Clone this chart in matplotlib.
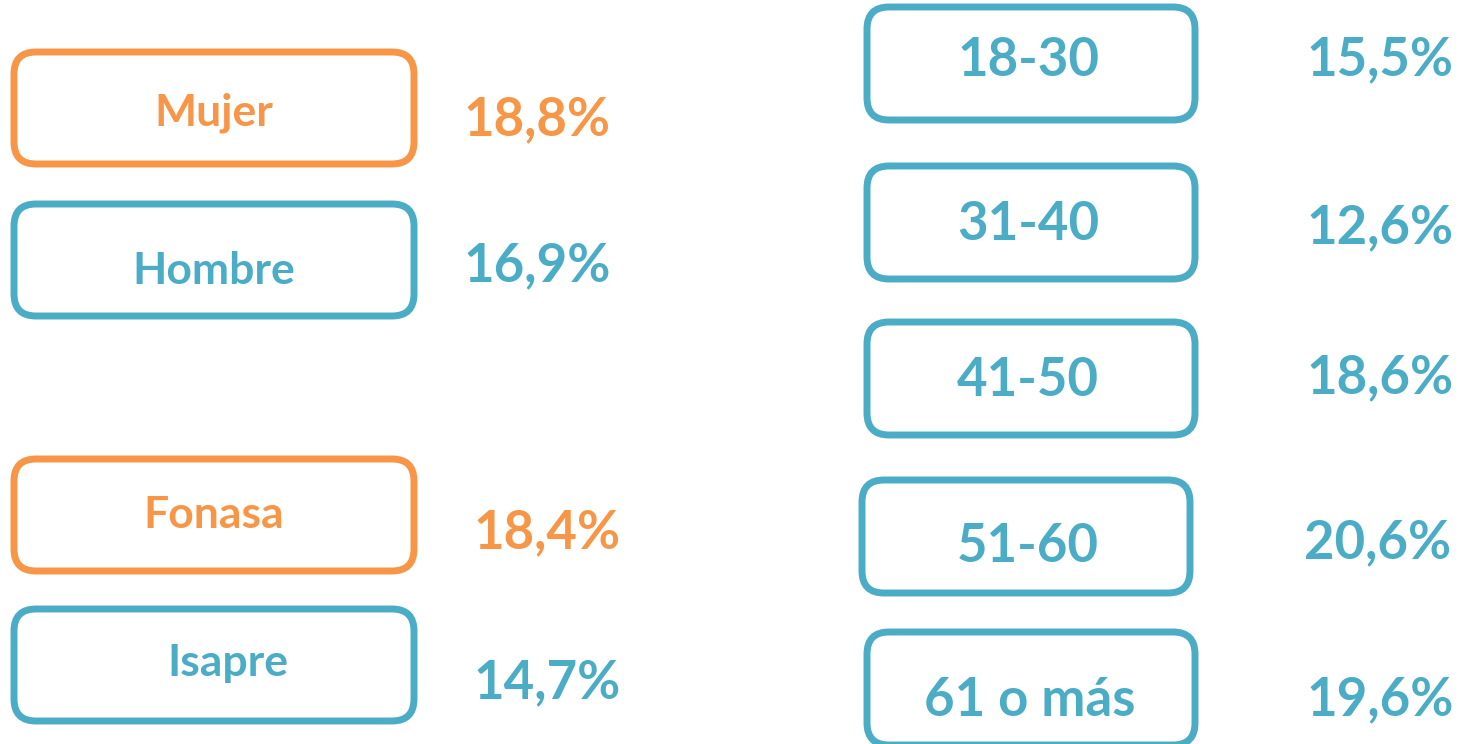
import matplotlib.pyplot as plt
from matplotlib.patches import FancyBboxPatch

# Datos
grupos_izq = ['Mujer', 'Hombre', 'Fonasa', 'Isapre']
valores_izq = ['18,8%', '16,9%', '18,4%', '14,7%']
destacado_izq = [True, False, True, False]

grupos_der = ['18-30', '31-40', '41-50', '51-60', '61 o más']
valores_der = ['15,5%', '12,6%', '18,6%', '20,6%', '19,6%']

naranjo = '#F79646'
azul = '#4BACC6'

plt.rcParams['font.family'] = ['Lato', 'DejaVu Sans']

fig = plt.figure(figsize=(14.6, 7.44), dpi=100)
ax = fig.add_axes([0, 0, 1, 1])
ax.set_xlim(0, 1460)
ax.set_ylim(744, 0)
ax.axis('off')


def caja(x, y, w, h, color):
    ax.add_patch(FancyBboxPatch((x, y), w, h, boxstyle='round,pad=0,rounding_size=22',
                                fill=False, edgecolor=color, linewidth=5))


# Columna izquierda: sexo y previsión
cajas_izq = [(14, 52), (14, 204), (14, 459), (14, 609)]
texto_izq = [(214, 113), (214, 271), (214, 515), (228, 663)]
valor_pos_izq = [(537, 120), (537, 266), (547, 533), (547, 683)]
for i, g in enumerate(grupos_izq):
    c = naranjo if destacado_izq[i] else azul
    caja(cajas_izq[i][0], cajas_izq[i][1], 400, 112, c)
    ax.text(*texto_izq[i], g, color=c, fontsize=32, fontweight='bold', ha='center', va='center')
    ax.text(*valor_pos_izq[i], valores_izq[i], color=c, fontsize=38, fontweight='bold',
            ha='center', va='center')

# Columna derecha: tramos de edad
cajas_der = [(867, 7), (867, 166), (867, 322), (862, 480), (867, 632)]
texto_der = [(1028, 60), (1028, 225), (1028, 381), (1028, 546), (1030, 701)]
valor_pos_der = [(1380, 60), (1380, 228), (1380, 378), (1378, 543), (1380, 700)]
for i, g in enumerate(grupos_der):
    caja(cajas_der[i][0], cajas_der[i][1], 328, 113, azul)
    ax.text(*texto_der[i], g, color=azul, fontsize=38, fontweight='bold', ha='center', va='center')
    ax.text(*valor_pos_der[i], valores_der[i], color=azul, fontsize=38, fontweight='bold',
            ha='center', va='center')

fig.savefig('out.png', dpi=100)
